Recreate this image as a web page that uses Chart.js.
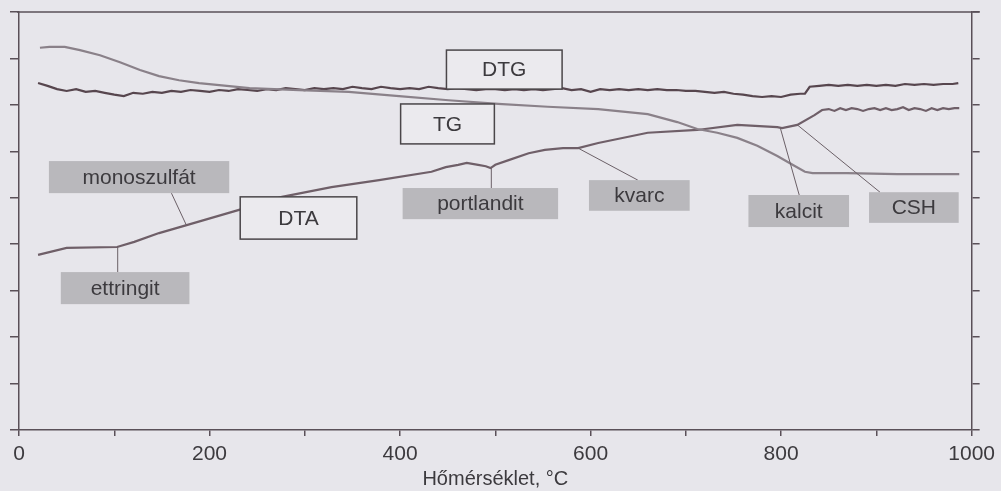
<!DOCTYPE html>
<html>
<head>
<meta charset="utf-8">
<script src="https://cdn.jsdelivr.net/npm/chart.js@4/dist/chart.umd.min.js"></script>
<style>
  html, body { margin: 0; padding: 0; background: #e7e6eb; }
  canvas { display: block; }
</style>
</head>
<body>
<canvas id="thermo" width="1001" height="491"></canvas>
<script>
// x tick labels (every 100 gets a tick mark, every 200 a label)
const xTickLabels = [0, 200, 400, 600, 800, 1000];

// DTG curve
const dtgTemp = [20,30,40,50,60,70,80,90,100,110,120,130,140,150,160,170,180,190,200,210,220,230,240,250,260,270,280,290,300,310,320,330,340,350,360,370,380,390,400,410,420,430,440,450,460,470,480,490,500,510,520,530,540,550,560,570,580,590,600,610,620,630,640,650,660,670,680,690,700,710,720,730,740,750,760,770,780,790,800,810,820,825,830,840,850,860,870,880,890,900,910,920,930,940,950,960,970,980,986];
const dtgVal = [7.47,7.41,7.34,7.30,7.34,7.28,7.30,7.26,7.22,7.19,7.26,7.24,7.28,7.26,7.30,7.28,7.32,7.30,7.28,7.32,7.30,7.34,7.32,7.30,7.34,7.32,7.36,7.34,7.32,7.36,7.34,7.36,7.34,7.39,7.36,7.34,7.39,7.36,7.34,7.36,7.34,7.39,7.36,7.34,7.36,7.34,7.32,7.34,7.34,7.32,7.34,7.32,7.34,7.32,7.34,7.36,7.32,7.34,7.28,7.34,7.32,7.34,7.32,7.34,7.32,7.34,7.32,7.32,7.30,7.30,7.28,7.26,7.28,7.24,7.22,7.19,7.17,7.19,7.17,7.22,7.24,7.24,7.39,7.41,7.43,7.41,7.43,7.41,7.43,7.41,7.43,7.41,7.45,7.43,7.45,7.43,7.45,7.45,7.47];

// TG curve
const tgTemp = [22,32,48,64,85,106,127,147,168,189,242,294,346,399,451,503,555,608,660,691,712,733,754,775,796,812,825,833,869,922,987];
const tgVal = [8.23,8.25,8.25,8.18,8.07,7.92,7.75,7.62,7.53,7.47,7.36,7.32,7.28,7.19,7.10,7.02,6.96,6.91,6.80,6.63,6.48,6.40,6.29,6.12,5.90,5.71,5.56,5.53,5.53,5.51,5.51];

// DTA curve
const dtaTemp = [20,50,103,121,147,176,231,276,328,378,433,448,461,470,482,490,495,500,514,535,552,571,587,608,660,712,754,796,801,817,835,843,850,856,862,868,874,880,886,892,898,904,910,916,922,928,934,940,946,952,958,964,970,976,982,987];
const dtaVal = [3.77,3.92,3.94,4.05,4.24,4.41,4.74,5.02,5.23,5.38,5.56,5.66,5.71,5.75,5.71,5.68,5.64,5.71,5.81,5.96,6.03,6.07,6.07,6.18,6.40,6.46,6.57,6.52,6.50,6.57,6.78,6.89,6.91,6.87,6.93,6.89,6.93,6.91,6.87,6.91,6.93,6.89,6.93,6.89,6.91,6.95,6.89,6.93,6.91,6.87,6.93,6.89,6.93,6.91,6.93,6.93];

// label boxes: text, [xMin, xMax, yMax, yMin] in data units, gray fill or white
const boxText = ["DTG", "TG", "DTA", "monoszulfát", "portlandit", "kvarc", "kalcit", "CSH", "ettringit"];
const boxRect = [
  [448.7, 570.1, 8.18, 7.34],
  [400.6, 499.0, 7.02, 6.16],
  [232.2, 354.6, 5.02, 4.11],
  [31.4, 220.7, 5.79, 5.10],
  [402.7, 565.9, 5.21, 4.54],
  [598.3, 704.0, 5.38, 4.72],
  [765.7, 871.3, 5.06, 4.37],
  [892.3, 986.4, 5.12, 4.46],
  [43.9, 178.9, 3.40, 2.71]
];
const boxGray = [false, false, false, true, true, true, true, true, true];
// leader lines from the curve to a box: [x1, y1, x2, y2]
const leaders = [
  [175.7, 4.41, 160.0, 5.10],
  [495.8, 5.64, 495.8, 5.21],
  [586.8, 6.07, 649.6, 5.38],
  [799.2, 6.50, 819.0, 5.06],
  [817.0, 6.57, 903.8, 5.12],
  [103.6, 3.96, 103.6, 3.40]
];

const toPoints = (xs, ys) => xs.map((x, i) => ({ x: x, y: ys[i] }));

const ink = "#3c3a3e";
const axisColor = "#5a5058";

const paper = {
  id: "paper",
  beforeDraw(chart) {
    const ctx = chart.ctx;
    ctx.save();
    ctx.fillStyle = "#e7e6eb";
    ctx.fillRect(0, 0, chart.width, chart.height);
    ctx.restore();
  }
};

const annotations = {
  id: "annotations",
  afterDatasetsDraw(chart) {
    const ctx = chart.ctx;
    const xs = chart.scales.x;
    const ys = chart.scales.y;
    const area = chart.chartArea;
    ctx.save();
    // top frame line
    ctx.strokeStyle = axisColor;
    ctx.lineWidth = 1.5;
    ctx.beginPath();
    ctx.moveTo(area.left - 2, area.top);
    ctx.lineTo(area.right + 8, area.top);
    ctx.stroke();

    ctx.strokeStyle = "#6b6067";
    ctx.lineWidth = 1;
    leaders.forEach(l => {
      ctx.beginPath();
      ctx.moveTo(xs.getPixelForValue(l[0]), ys.getPixelForValue(l[1]));
      ctx.lineTo(xs.getPixelForValue(l[2]), ys.getPixelForValue(l[3]));
      ctx.stroke();
    });

    ctx.font = "21px 'Liberation Sans', Arial, sans-serif";
    ctx.textAlign = "center";
    ctx.textBaseline = "middle";
    boxText.forEach((t, i) => {
      const r = boxRect[i];
      const x1 = xs.getPixelForValue(r[0]);
      const x2 = xs.getPixelForValue(r[1]);
      const y1 = ys.getPixelForValue(r[2]);
      const y2 = ys.getPixelForValue(r[3]);
      if (boxGray[i]) {
        ctx.fillStyle = "#b9b8bc";
        ctx.fillRect(x1, y1, x2 - x1, y2 - y1);
      } else {
        ctx.fillStyle = "#ebeaee";
        ctx.fillRect(x1, y1, x2 - x1, y2 - y1);
        ctx.strokeStyle = "#4a4649";
        ctx.lineWidth = 1.5;
        ctx.strokeRect(x1, y1, x2 - x1, y2 - y1);
      }
      ctx.fillStyle = ink;
      ctx.fillText(t, (x1 + x2) / 2, (y1 + y2) / 2 + 1);
    });
    ctx.restore();
  }
};

new Chart(document.getElementById("thermo"), {
  type: "line",
  data: {
    datasets: [
      { label: "TG", data: toPoints(tgTemp, tgVal), borderColor: "#8a8189", borderWidth: 2.2 },
      { label: "DTA", data: toPoints(dtaTemp, dtaVal), borderColor: "#6f5f68", borderWidth: 2.2 },
      { label: "DTG", data: toPoints(dtgTemp, dtgVal), borderColor: "#57464e", borderWidth: 2.2 }
    ]
  },
  options: {
    responsive: false,
    animation: false,
    devicePixelRatio: 1,
    layout: { padding: { top: 12, left: 0, right: 0, bottom: 0 } },
    elements: { point: { radius: 0 }, line: { tension: 0 } },
    plugins: { legend: { display: false }, tooltip: { enabled: false } },
    scales: {
      x: {
        type: "linear",
        min: 0,
        max: 1000,
        afterFit: s => { s.height = 61; },
        grid: { drawOnChartArea: false, tickLength: 6, color: axisColor, lineWidth: 1.5 },
        border: { color: axisColor, width: 1.5 },
        ticks: {
          stepSize: 100,
          autoSkip: false,
          maxRotation: 0,
          padding: 6,
          color: ink,
          font: { family: "'Liberation Sans', Arial, sans-serif", size: 21 },
          callback: v => xTickLabels.includes(v) ? String(v) : ""
        },
        title: {
          display: true,
          text: "Hőmérséklet, °C",
          color: ink,
          padding: { top: 0, bottom: 0 },
          font: { family: "'Liberation Sans', Arial, sans-serif", size: 20 }
        }
      },
      y: {
        min: 0,
        max: 9,
        position: "left",
        afterFit: s => { s.width = 19; },
        grid: { drawOnChartArea: false, tickLength: 9, color: axisColor, lineWidth: 1.5 },
        border: { color: axisColor, width: 1.5 },
        ticks: { stepSize: 1, display: false }
      },
      y2: {
        min: 0,
        max: 9,
        position: "right",
        afterFit: s => { s.width = 26; },
        grid: { drawOnChartArea: false, tickLength: 8, color: axisColor, lineWidth: 1.5 },
        border: { color: axisColor, width: 1.5 },
        ticks: { stepSize: 1, display: false }
      }
    }
  },
  plugins: [paper, annotations]
});
</script>
</body>
</html>
